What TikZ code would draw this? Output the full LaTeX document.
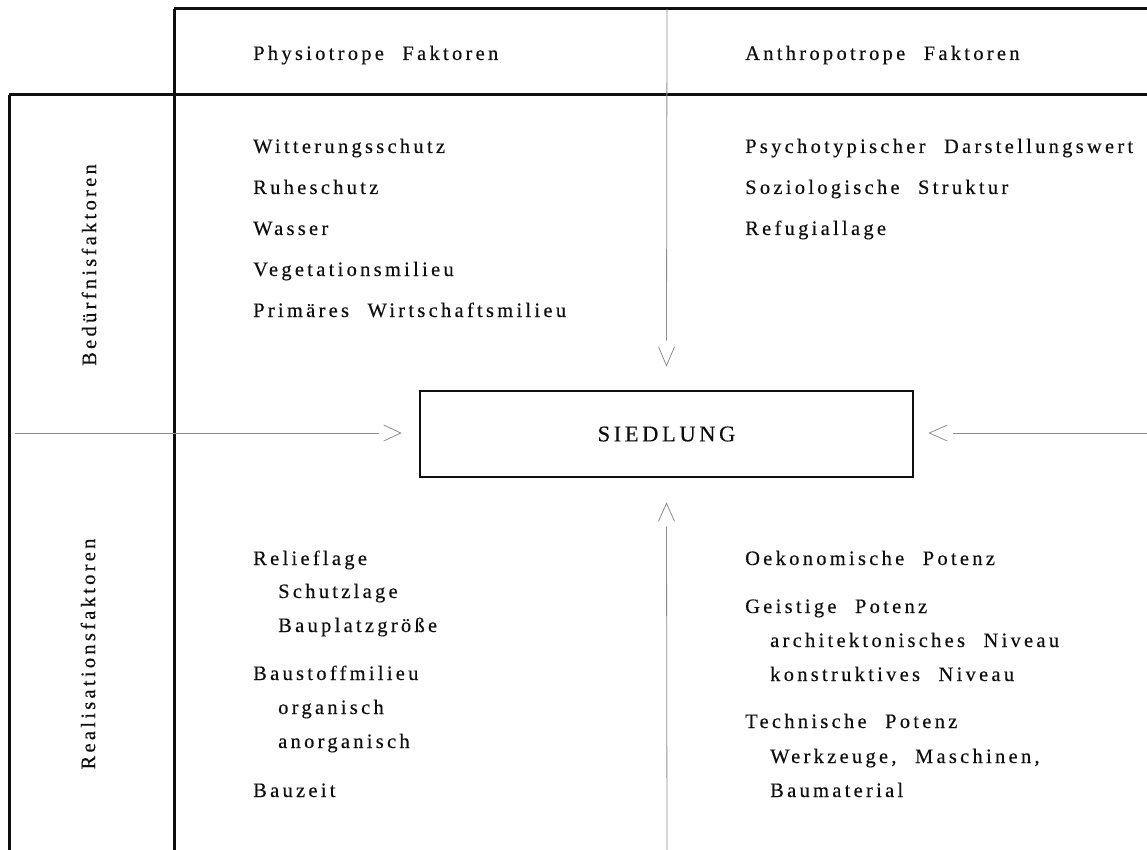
\documentclass[tikz,border=0pt]{standalone}
\usepackage{fontspec}
\newfontfamily\lmf{Liberation Serif}[LetterSpace=16,WordSpace=2.2,FakeBold=0.35]
\usetikzlibrary{calc}
\definecolor{thinc}{gray}{0.55}
\definecolor{inkc}{gray}{0.06}
\tikzset{
  frameline/.style={line width=3pt, draw=inkc},
  thinline/.style={line width=0.8pt, draw=thinc},
  chevron/.style={line width=0.8pt, draw=thinc},
  lbl/.style={anchor=base west, inner sep=0pt, text=inkc, font=\lmf\fontsize{20.5}{23}\selectfont},
  side/.style={inner sep=0pt, text=inkc, rotate=90, font=\lmf\fontsize{20.5}{23}\selectfont},
  centerbox/.style={draw=inkc, line width=2.6pt, minimum width=493pt, minimum height=86pt, inner sep=0pt, text=inkc, font=\lmf\fontsize{22.5}{25}\selectfont}
}
\begin{document}
\begin{tikzpicture}[x=1pt,y=-1pt]
\useasboundingbox (0,0) rectangle (1147,850);
% frame
\draw[frameline] (174,9) -- (1147,9);
\draw[frameline] (174,9) -- (174,850);
\draw[frameline] (9,95) -- (1147,95);
\draw[frameline] (9,95) -- (9,850);
% centre box
\node[centerbox] (sied) at (666.5,434) {SIEDLUNG};
% free ends of connectors
\coordinate (ltop) at (667,9);
\coordinate (lbot) at (667,850);
\coordinate (lleft) at (15,433);
\coordinate (lright) at (1147,433);
% connectors
\draw[thinline] (ltop) -- ($(sied.north)+(0,-49)$);
\draw[chevron] ($(sied.north)+(-8,-43)$) -- ($(sied.north)+(0,-24)$) -- ($(sied.north)+(8,-43)$);
\draw[thinline] (lbot) -- ($(sied.south)+(0,48)$);
\draw[chevron] ($(sied.south)+(-8,43)$) -- ($(sied.south)+(0,25)$) -- ($(sied.south)+(8,43)$);
\draw[thinline] (lleft) -- ($(sied.west)+(-40,-1)$);
\draw[chevron] ($(sied.west)+(-35,-9)$) -- ($(sied.west)+(-18,-1)$) -- ($(sied.west)+(-35,7)$);
\draw[thinline] (lright) -- ($(sied.east)+(39,-1)$);
\draw[chevron] ($(sied.east)+(33,-9)$) -- ($(sied.east)+(15,-1)$) -- ($(sied.east)+(33,7)$);
% headers
\node[lbl] (hphys) at (253,60) {Physiotrope Faktoren};
\node[lbl] (hanth) at (745,60) {Anthropotrope Faktoren};
% side labels
\node[side] (sbed) at (89,265) {Bedürfnisfaktoren};
\node[side] (sreal) at (88,654) {Realisationsfaktoren};
% top left list
\node[lbl] (a1) at (253,153) {Witterungsschutz};
\node[lbl] (a2) at (253,194) {Ruheschutz};
\node[lbl] (a3) at (253,235) {Wasser};
\node[lbl] (a4) at (253,276) {Vegetationsmilieu};
\node[lbl] (a5) at (253,317) {Primäres Wirtschaftsmilieu};
% top right list
\node[lbl] (b1) at (745,153) {Psychotypischer Darstellungswert};
\node[lbl] (b2) at (745,194) {Soziologische Struktur};
\node[lbl] (b3) at (745,235) {Refugiallage};
% bottom left list
\node[lbl] (c1) at (253,565) {Relieflage};
\node[lbl] (c2) at (278,598) {Schutzlage};
\node[lbl] (c3) at (278,632) {Bauplatzgröße};
\node[lbl] (c4) at (253,680) {Baustoffmilieu};
\node[lbl] (c5) at (278,714) {organisch};
\node[lbl] (c6) at (278,748) {anorganisch};
\node[lbl] (c7) at (253,797) {Bauzeit};
% bottom right list
\node[lbl] (d1) at (745,565) {Oekonomische Potenz};
\node[lbl] (d2) at (745,613) {Geistige Potenz};
\node[lbl] (d3) at (770,647) {architektonisches Niveau};
\node[lbl] (d4) at (770,681) {konstruktives Niveau};
\node[lbl] (d5) at (745,728) {Technische Potenz};
\node[lbl] (d6) at (770,763) {Werkzeuge, Maschinen,};
\node[lbl] (d7) at (770,797) {Baumaterial};
\end{tikzpicture}
\end{document}
